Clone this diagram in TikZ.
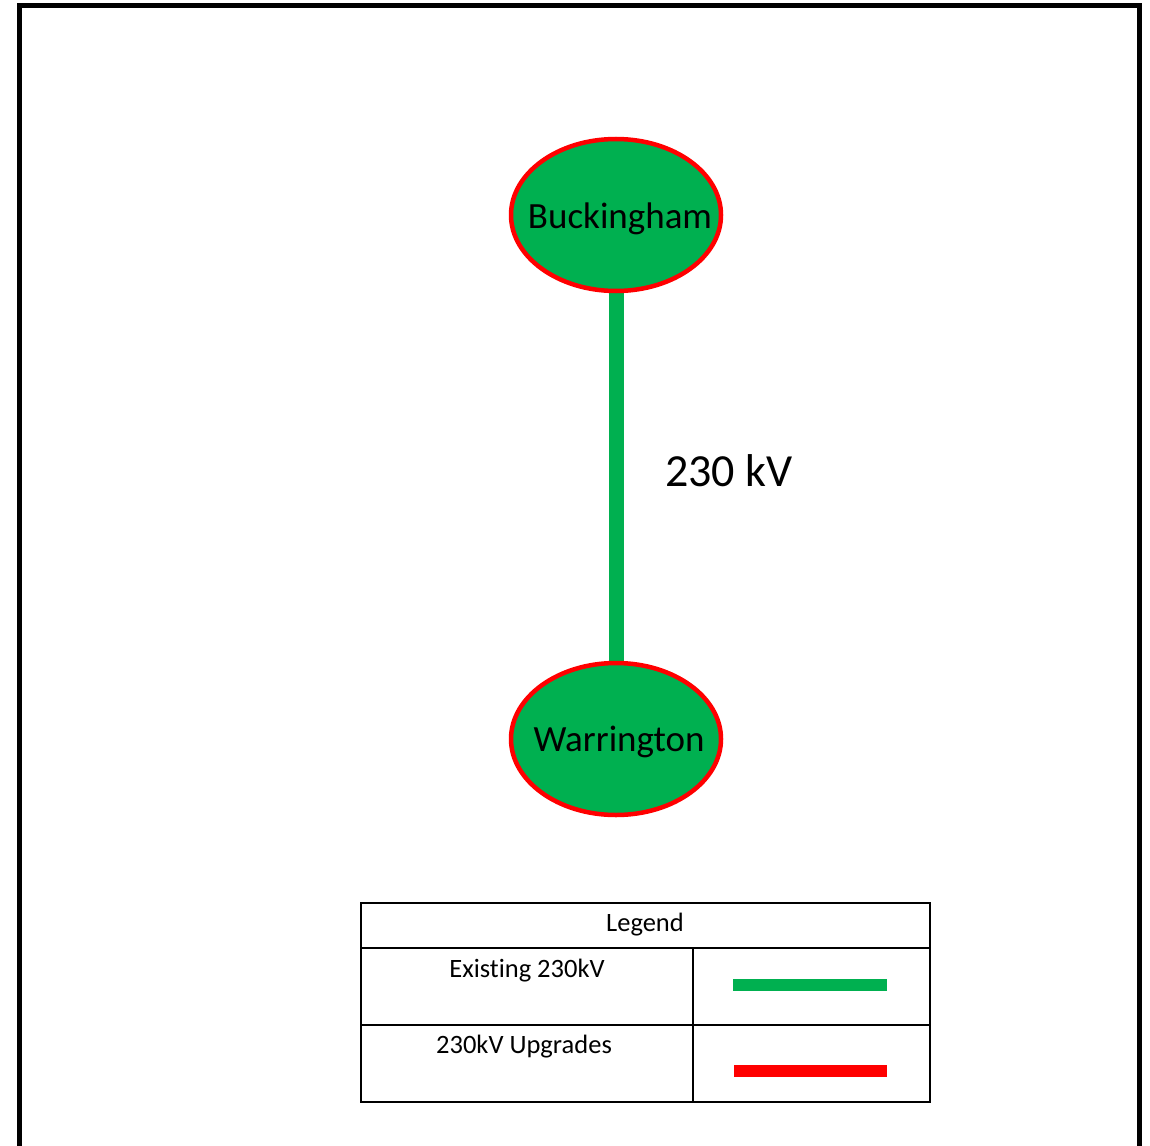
\documentclass[tikz,border=0pt]{standalone}
\usepackage{fontspec}
\setmainfont[Ligatures=NoCommon]{Carlito}
\usetikzlibrary{shapes.geometric,backgrounds}
\definecolor{linegreen}{HTML}{00B050}
\definecolor{ringred}{HTML}{FF0000}
\tikzset{
  substation/.style={ellipse, draw=ringred, line width=4.5pt, fill=linegreen,
    minimum width=210pt, minimum height=152pt, inner sep=0pt,
    font=\fontsize{37}{44}\selectfont},
  kvline/.style={draw=linegreen, line width=15pt},
  legendtext/.style={font=\fontsize{26.5}{31}\selectfont, inner sep=0pt},
  tablerule/.style={draw=black, line width=2.5pt},
  frame/.style={draw=black, line width=5pt},
  legendgreen/.style={draw=linegreen, line width=12pt},
  legendred/.style={draw=ringred, line width=12pt}
}
\begin{document}
\begin{tikzpicture}[x=1pt, y=-1pt]
\useasboundingbox (0,0) rectangle (1150,1145);
% outer frame (bottom edge lies outside the picture)
\coordinate (fbl) at (19.5,1150);
\coordinate (ftl) at (19.5,5.5);
\coordinate (ftr) at (1139.5,5.5);
\coordinate (fbr) at (1139.5,1150);
\draw[frame] (fbl) -- (ftl) -- (ftr) -- (fbr);

% substations
\node[substation] (buck) at (616,215) {\raisebox{-3.5pt}[\height][\depth]{\makebox[0pt]{\hspace*{8pt}Buckingham}}};
\node[substation] (warr) at (616,739) {\raisebox{-3pt}[\height][\depth]{\makebox[0pt]{\hspace*{6pt}Warrington}}};
\begin{pgfonlayer}{background}
\draw[kvline] (buck.south) -- (warr.north);
\end{pgfonlayer}
\node[font=\fontsize{46}{54}\selectfont, inner sep=0pt] (kv) at (729,471) {230 kV};

% legend table
\coordinate (t1) at (361,903);
\coordinate (t2) at (930,903);
\coordinate (t3) at (930,1102);
\coordinate (t4) at (361,1102);
\coordinate (h1) at (361,948);
\coordinate (h2) at (930,948);
\coordinate (r1) at (361,1025);
\coordinate (r2) at (930,1025);
\coordinate (c1) at (693,948);
\coordinate (c2) at (693,1102);
\draw[tablerule] (t1) -- (t2) -- (t3) -- (t4) -- cycle;
\draw[tablerule] (h1) -- (h2);
\draw[tablerule] (r1) -- (r2);
\draw[tablerule] (c1) -- (c2);

\node[legendtext] (lg) at (645,925) {Legend};
\node[legendtext] (ex) at (527,971) {Existing 230kV};
\node[legendtext] (up) at (524,1047) {230kV Upgrades};

\coordinate (g1) at (733,985);
\coordinate (g2) at (887,985);
\coordinate (rr1) at (734,1071);
\coordinate (rr2) at (887,1071);
\draw[legendgreen] (g1) -- (g2);
\draw[legendred] (rr1) -- (rr2);
\end{tikzpicture}
\end{document}
